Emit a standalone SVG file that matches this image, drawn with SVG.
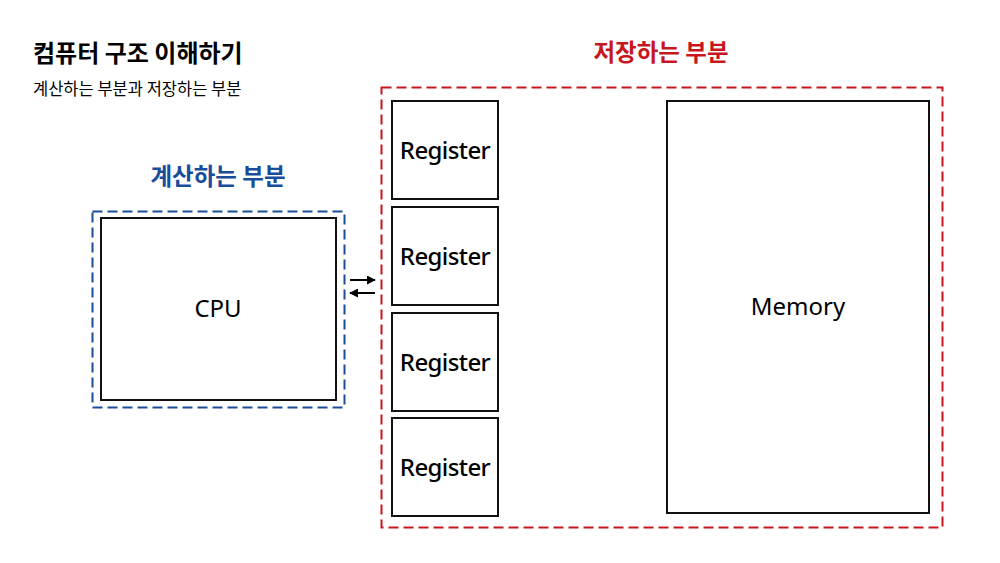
<svg xmlns="http://www.w3.org/2000/svg" width="1000" height="563" viewBox="0 0 1000 563">
<defs>
<style>
.t{font-family:"Noto Sans CJK KR","Noto Sans",sans-serif;}
.box{fill:#fff;stroke:#111;stroke-width:2;}
.lbl{font-family:"Noto Sans","Open Sans",sans-serif;font-size:24px;fill:#000;text-anchor:middle;}
.reg{font-family:"Noto Sans","Open Sans",sans-serif;font-size:24px;fill:#000;text-anchor:middle;font-weight:500;letter-spacing:-0.6px;}
.conn{stroke:#000;stroke-width:2;fill:none;}
</style>
<marker id="ah" viewBox="0 0 10 10" refX="9" refY="5" markerWidth="4.5" markerHeight="4.5" orient="auto"><path d="M0,0 L10,5 L0,10 z" fill="#000"/></marker>
</defs>
<rect width="1000" height="563" fill="#fff"/>
<text class="t" x="33" y="62" font-size="24" font-weight="bold" fill="#000">컴퓨터 구조 이해하기</text>
<text class="t" x="33" y="95" font-size="16.5" fill="#000">계산하는 부분과 저장하는 부분</text>

<g id="compute-group">
<text class="t" x="218" y="185" font-size="23.5" font-weight="bold" fill="#1a4c9c" text-anchor="middle">계산하는 부분</text>
<rect x="92.5" y="211.5" width="252" height="196" fill="none" stroke="#1a4c9c" stroke-width="2" stroke-dasharray="10,5"/>
</g>
<g id="cpu">
<rect class="box" x="101" y="218" width="235" height="182"/>
<text class="lbl" x="218" y="317">CPU</text>
</g>

<g id="storage-group">
<text class="t" x="661" y="61" font-size="23.5" font-weight="bold" fill="#c8161e" text-anchor="middle">저장하는 부분</text>
<rect x="381.5" y="87.5" width="561" height="440" fill="none" stroke="#c8161e" stroke-width="2" stroke-dasharray="10,5"/>
</g>
<g id="register1">
<rect class="box" x="392" y="101" width="106" height="98"/>
<text class="reg" x="445" y="159">Register</text>
</g>
<g id="register2">
<rect class="box" x="392" y="207" width="106" height="98"/>
<text class="reg" x="445" y="265">Register</text>
</g>
<g id="register3">
<rect class="box" x="392" y="313" width="106" height="98"/>
<text class="reg" x="445" y="371">Register</text>
</g>
<g id="register4">
<rect class="box" x="392" y="418" width="106" height="98"/>
<text class="reg" x="445" y="476">Register</text>
</g>
<g id="memory">
<rect class="box" x="667" y="101" width="262" height="412"/>
<text class="lbl" x="798" y="315">Memory</text>
</g>

<g id="connectors">
<line class="conn" x1="350" y1="280" x2="375" y2="280" marker-end="url(#ah)"/>
<line class="conn" x1="375" y1="293" x2="350" y2="293" marker-end="url(#ah)"/>
</g>
</svg>
